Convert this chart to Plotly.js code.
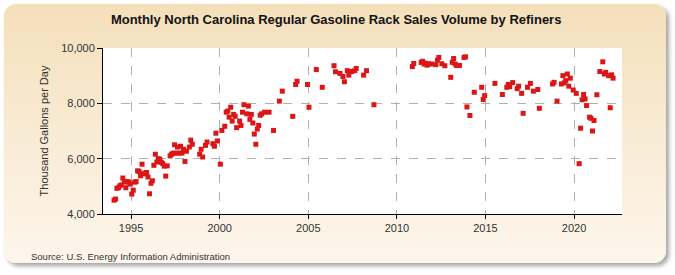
<!DOCTYPE html>
<html>
<head>
<meta charset="utf-8">
<script src="https://cdn.plot.ly/plotly-3.0.1.min.js"></script>
<style>
  html, body { margin: 0; padding: 0; background: #ffffff; }
  #moldura {
    position: absolute; left: 4px; top: 4px; width: 662px; height: 259px;
    border-radius: 12px;
    background: linear-gradient(to bottom, #f4dfba 0%, #f8ead2 45%, #fdf6ec 100%);
    box-shadow: 3px 3px 4px rgba(90, 90, 90, 0.55);
  }
  #grafico { position: absolute; left: 0; top: 0; width: 675px; height: 275px; }
</style>
</head>
<body>
<div id="moldura"></div>
<div id="grafico"></div>
<script>
/* ===== dados (mil galões por dia) ===== */
const meses = [
  "1994-01", "1994-02", "1994-03", "1994-04", "1994-05", "1994-06", "1994-07", "1994-08",
  "1994-09", "1994-10", "1994-11", "1994-12",
  "1995-01", "1995-02", "1995-03", "1995-04", "1995-05", "1995-06", "1995-07", "1995-08",
  "1995-09", "1995-10", "1995-11", "1995-12",
  "1996-01", "1996-02", "1996-03", "1996-04", "1996-05", "1996-06", "1996-07", "1996-08",
  "1996-09", "1996-10", "1996-11", "1996-12",
  "1997-01", "1997-03", "1997-04", "1997-05", "1997-06", "1997-07", "1997-08", "1997-09",
  "1997-10", "1997-11", "1997-12",
  "1998-01", "1998-02", "1998-04", "1998-05", "1998-06", "1998-11", "1998-12",
  "1999-01", "1999-03", "1999-04", "1999-08", "1999-09", "1999-10", "1999-11",
  "2000-01", "2000-02", "2000-04", "2000-05", "2000-06", "2000-07", "2000-08", "2000-09",
  "2000-10", "2000-11", "2000-12",
  "2001-02", "2001-03", "2001-04", "2001-05", "2001-07", "2001-08", "2001-09", "2001-10",
  "2001-11", "2001-12",
  "2002-01", "2002-02", "2002-03", "2002-04", "2002-05", "2002-07", "2002-10",
  "2003-01", "2003-05", "2003-07",
  "2004-02", "2004-04", "2004-05", "2004-12",
  "2005-01", "2005-06", "2005-10",
  "2006-06", "2006-07", "2006-10", "2006-12",
  "2007-01", "2007-03", "2007-04", "2007-05", "2007-06", "2007-08", "2007-09",
  "2008-02", "2008-04", "2008-09",
  "2010-11", "2010-12",
  "2011-05", "2011-06", "2011-07", "2011-08", "2011-09", "2011-10", "2011-12",
  "2012-03", "2012-04", "2012-05", "2012-07", "2012-09",
  "2013-01", "2013-02", "2013-03", "2013-04", "2013-05", "2013-07", "2013-10", "2013-11",
  "2013-12",
  "2014-02", "2014-05", "2014-10", "2014-11", "2014-12",
  "2015-07", "2015-12",
  "2016-03", "2016-04", "2016-05", "2016-07", "2016-10", "2016-11",
  "2017-01", "2017-02", "2017-05", "2017-07", "2017-09", "2017-12",
  "2018-01", "2018-10", "2018-11",
  "2019-01", "2019-04", "2019-05", "2019-06", "2019-07", "2019-08", "2019-09", "2019-10",
  "2019-12",
  "2020-02", "2020-04", "2020-05", "2020-06", "2020-07", "2020-08", "2020-09", "2020-11",
  "2020-12",
  "2021-01", "2021-02", "2021-04", "2021-06", "2021-08", "2021-09", "2021-10", "2021-12",
  "2022-01", "2022-02", "2022-03"
];
const volume = [
  4500, 4540, 4930, 4950, 5020, 5050, 5300, 5160,
  4950, 5170, 5150, 5080,
  4720, 4860, 5150, 5170, 5560, 5540, 5380, 5800,
  5450, 5480, 5500, 5340,
  4730, 5110, 5200, 5760, 6160, 5880, 6000, 5980,
  5870, 5820, 5730, 5370,
  5740, 6100, 6160, 6200, 6500, 6200, 6420, 6200,
  6450, 6200, 6340,
  5900, 6270, 6420, 6670, 6520, 6160, 6340,
  6060, 6480, 6600, 6540, 6450, 6920, 6640,
  5800, 7020, 7170, 7680, 7720, 7500, 7860, 7360,
  7600, 7530, 7120,
  7360, 7200, 7680, 7950, 7620, 7900, 7420, 7600,
  7290, 6890,
  6520, 7070, 7200, 7570, 7620, 7680, 7680,
  7020, 8080, 8440,
  7530, 8680, 8800, 8680,
  7860, 9220, 8580,
  9360, 9140, 9080, 8970,
  8780, 9180, 9020, 9140, 9150, 9180, 9260,
  9020, 9180, 7950,
  9330, 9440,
  9480, 9520, 9420, 9450, 9380, 9430, 9420,
  9400, 9560, 9660, 9430, 9360,
  8940, 9480, 9620, 9420, 9370, 9370, 9660, 9680,
  7870,
  7560, 8400, 8580, 8140, 8280,
  8720, 8320,
  8580, 8680, 8600, 8750, 8530, 8620,
  8360, 7640, 8580, 8720, 8440, 8500,
  7820, 8700, 8760,
  8080, 8700, 9000, 8740, 8820, 9060, 8620, 8910,
  8480,
  8360, 5820, 7100, 8130, 8320, 8160, 7920, 7500,
  7460,
  7000, 7380, 8310, 9150, 9500, 9060, 9120, 9000,
  7840, 9030, 8910
];
const anosEixo = [1995, 2000, 2005, 2010, 2015, 2020];
const valoresEixoY = [4000, 6000, 8000, 10000];

const titulo = "Monthly North Carolina Regular Gasoline Rack Sales Volume by Refiners";
const tituloY = "Thousand Gallons per Day";
const fonte = "Source: U.S. Energy Information Administration";

/* ===== gráfico ===== */
const fonteBase = "Liberation Sans, Arial, sans-serif";

Plotly.newPlot(
  "grafico",
  [
    {
      x: meses.map((m) => m + "-15"),
      y: volume,
      type: "scatter",
      mode: "markers",
      marker: { symbol: "square", size: 5, color: "#dc1616" },
      hoverinfo: "x+y",
    },
  ],
  {
    width: 675,
    height: 275,
    paper_bgcolor: "rgba(0,0,0,0)",
    plot_bgcolor: "#ffffff",
    margin: { l: 103, r: 53, t: 48, b: 61 },
    showlegend: false,
    title: {
      text: "<b>" + titulo + "</b>",
      font: { family: fonteBase, size: 13, color: "#111111" },
      x: 0.498,
      xanchor: "center",
      y: 0.93,
      yanchor: "middle",
    },
    xaxis: {
      type: "date",
      range: ["1993-06-01", "2022-09-15"],
      tickmode: "array",
      tickvals: anosEixo.map((a) => a + "-01-01"),
      ticktext: anosEixo.map(String),
      ticks: "outside",
      ticklen: 4,
      tickcolor: "#000000",
      showline: true,
      linecolor: "#000000",
      linewidth: 1,
      showgrid: true,
      gridcolor: "#b0b0b0",
      griddash: "dash",
      gridwidth: 1,
      zeroline: false,
      tickfont: { family: fonteBase, size: 11, color: "#333333" },
    },
    yaxis: {
      range: [4000, 10000],
      tickmode: "array",
      tickvals: valoresEixoY,
      ticktext: valoresEixoY.map((v) => v.toLocaleString("en-US")),
      ticks: "outside",
      ticklen: 5,
      tickcolor: "#000000",
      showline: true,
      linecolor: "#000000",
      linewidth: 1,
      showgrid: true,
      gridcolor: "#b0b0b0",
      griddash: "dash",
      gridwidth: 1,
      zeroline: false,
      tickfont: { family: fonteBase, size: 11, color: "#333333" },
      title: {
        text: tituloY,
        font: { family: fonteBase, size: 11, color: "#333333" },
        standoff: 10,
      },
    },
    annotations: [
      {
        text: fonte,
        xref: "paper",
        yref: "paper",
        x: -0.142,
        xanchor: "left",
        y: -0.21,
        yanchor: "top",
        showarrow: false,
        font: { family: fonteBase, size: 9.5, color: "#333333" },
      },
    ],
  },
  { displayModeBar: false, responsive: false }
);
</script>
</body>
</html>
